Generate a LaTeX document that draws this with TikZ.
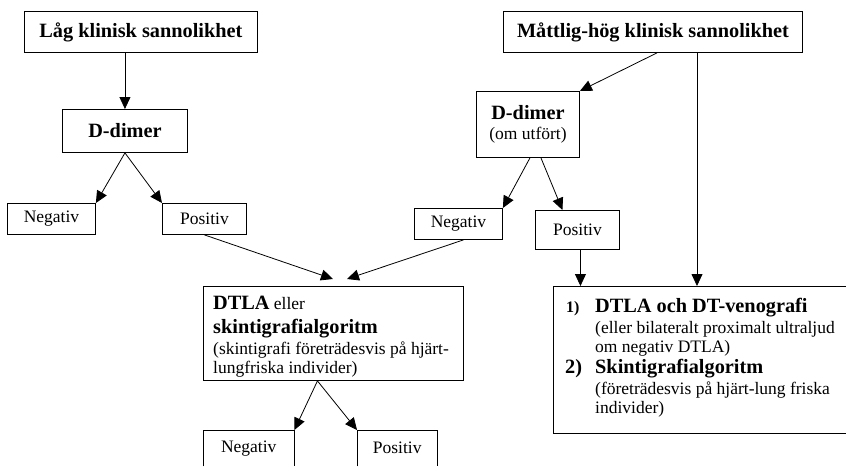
\documentclass[tikz,border=0pt]{standalone}
\usepackage{fontspec}
\setmainfont{Liberation Serif}
\usetikzlibrary{arrows.meta,calc}
\tikzset{
  box/.style={draw, line width=0.9pt, inner sep=0pt, anchor=north west, align=center,
              font=\fontsize{17.5}{19}\selectfont},
  openbox/.style={inner sep=0pt, anchor=north west, align=center,
              font=\fontsize{17.5}{19}\selectfont},
  headfont/.style={font=\fontsize{20.3}{23}\selectfont\bfseries},
  conn/.style={line width=0.8pt, -{Triangle[length=12pt,width=11pt]}},
  border/.style={line width=0.9pt},
  txt/.style={anchor=base west, inner sep=0pt, font=\fontsize{17.5}{19}\selectfont},
  boldtxt/.style={anchor=base west, inner sep=0pt, font=\fontsize{20.3}{23}\selectfont\bfseries},
  smallbold/.style={anchor=base west, inner sep=0pt, font=\fontsize{16}{19}\selectfont\bfseries},
}
\begin{document}
\begin{tikzpicture}[x=1pt,y=-1pt]
\useasboundingbox (0,0) rectangle (846,466);

% boxes
\node[box, headfont, minimum width=233pt, minimum height=41pt] (A) at (24,11) {Låg klinisk sannolikhet};
\node[box, headfont, minimum width=299pt, minimum height=41pt] (D) at (503,11) {Måttlig-hög klinisk sannolikhet};
\node[box, headfont, minimum width=125pt, minimum height=43pt] (B) at (62,109) {D-dimer};
\node[box, minimum width=103pt, minimum height=66pt] (E) at (476,91)
  {{\fontsize{20.3}{23}\selectfont\bfseries D-dimer}\\[1pt](om utfört)};
\node[box, minimum width=88pt, minimum height=31pt] (NL) at (7,203) {Negativ};
\node[box, minimum width=84pt, minimum height=31pt] (PL) at (162,203) {Positiv};
\node[box, minimum width=88pt, minimum height=31pt] (NM) at (414,208) {Negativ};
\node[box, minimum width=84pt, minimum height=39pt] (PM) at (535,210) {Positiv};
\node[box, minimum width=260pt, minimum height=94pt] (C) at (203,286) {};
\node[openbox, minimum width=293pt, minimum height=147pt] (F) at (553,286) {};
\node[openbox, minimum width=91pt, minimum height=36pt] (NB) at (203,430) {Negativ};
\node[openbox, minimum width=80pt, minimum height=36pt] (PB) at (357,430) {Positiv};

% open borders
\draw[border] (F.north east) -- (F.north west) -- (F.south west) -- (F.south east);
\draw[border] (NB.south west) -- (NB.north west) -- (NB.north east) -- (NB.south east);
\draw[border] (PB.south west) -- (PB.north west) -- (PB.north east) -- (PB.south east);

% text of C
\node[txt] (c1) at (213,309) {\textbf{\fontsize{20.3}{23}\selectfont DTLA} eller};
\node[boldtxt] (c2) at (213,333) {skintigrafialgoritm};
\node[txt] (c3) at (213,354) {(skintigrafi företrädesvis på hjärt-};
\node[txt] (c4) at (213,373) {lungfriska individer)};

% text of F
\node[smallbold] (f0) at (566,312) {1)};
\node[boldtxt] (f1) at (595,312) {DTLA och DT-venografi};
\node[txt] (f2) at (595,333) {(eller bilateralt proximalt ultraljud};
\node[txt] (f3) at (595,352) {om negativ DTLA)};
\node[boldtxt] (f4a) at (565,373) {2)};
\node[boldtxt] (f4) at (595,373) {Skintigrafialgoritm};
\node[txt] (f5) at (595,394) {(företrädesvis på hjärt-lung friska};
\node[txt] (f6) at (595,413) {individer)};

% free ends
\coordinate (c1end) at (333,279);
\coordinate (c2end) at (347,279);
\coordinate (vx) at (697,0);

% connectors
\draw[conn] (B.north |- A.south) -- (B.north);
\draw[conn] (B.south) -- (NL.north east);
\draw[conn] (B.south) -- (PL.north west);
\draw[conn] (PL.south) -- (c1end);
\draw[conn] ([xshift=5pt]NM.south) -- (c2end);
\draw[conn] ([xshift=4pt]D.south) -- (E.north east);
\draw[conn] (vx |- D.south) -- (vx |- F.north);
\draw[conn] ([xshift=2pt]E.south) -- (NM.north east);
\draw[conn] ([xshift=13pt]E.south) -- ([xshift=-15pt]PM.north);
\draw[conn] ([xshift=3pt]PM.south) -- ([xshift=3pt]PM.south |- F.north);
\draw[conn] ([xshift=-16pt]C.south) -- (NB.north east);
\draw[conn] ([xshift=-16pt]C.south) -- (PB.north west);
\end{tikzpicture}
\end{document}
